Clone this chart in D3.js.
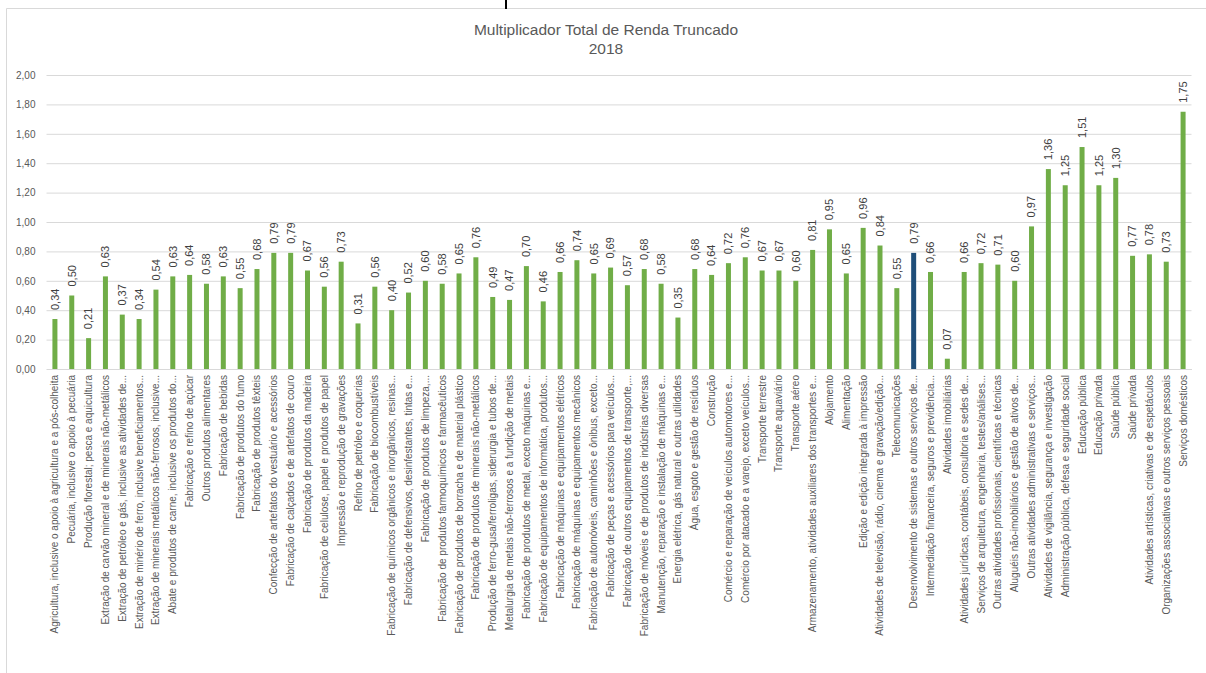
<!DOCTYPE html>
<html>
<head>
<meta charset="utf-8">
<script src="https://cdn.jsdelivr.net/npm/d3@7"></script>
<style>
  html, body { margin: 0; padding: 0; background: #ffffff; }
  svg { display: block; font-family: "Liberation Sans", Arial, sans-serif; }
</style>
</head>
<body>
<svg id="chart" width="1206" height="673"></svg>
<script>
const categories = [
  "Agricultura, inclusive o apoio à agricultura e a pós-colheita",
  "Pecuária, inclusive o apoio à pecuária",
  "Produção florestal; pesca e aquicultura",
  "Extração de carvão mineral e de minerais não-metálicos",
  "Extração de petróleo e gás, inclusive as atividades de...",
  "Extração de minério de ferro, inclusive beneficiamentos...",
  "Extração de minerais metálicos não-ferrosos, inclusive...",
  "Abate e produtos de carne, inclusive os produtos do...",
  "Fabricação e refino de açúcar",
  "Outros produtos alimentares",
  "Fabricação de bebidas",
  "Fabricação de produtos do fumo",
  "Fabricação de produtos têxteis",
  "Confecção de artefatos do vestuário e acessórios",
  "Fabricação de calçados e de artefatos de couro",
  "Fabricação de produtos da madeira",
  "Fabricação de celulose, papel e produtos de papel",
  "Impressão e reprodução de gravações",
  "Refino de petróleo e coquerias",
  "Fabricação de biocombustíveis",
  "Fabricação de químicos orgânicos e inorgânicos, resinas...",
  "Fabricação de defensivos, desinfestantes, tintas e...",
  "Fabricação de produtos de limpeza,...",
  "Fabricação de produtos farmoquímicos e farmacêuticos",
  "Fabricação de produtos de borracha e de material plástico",
  "Fabricação de produtos de minerais não-metálicos",
  "Produção de ferro-gusa/ferroligas, siderurgia e tubos de...",
  "Metalurgia de metais não-ferrosos e a fundição de metais",
  "Fabricação de produtos de metal, exceto máquinas e...",
  "Fabricação de equipamentos de informática, produtos...",
  "Fabricação de máquinas e equipamentos elétricos",
  "Fabricação de máquinas e equipamentos mecânicos",
  "Fabricação de automóveis, caminhões e ônibus, exceto...",
  "Fabricação de peças e acessórios para veículos...",
  "Fabricação de outros equipamentos de transporte,...",
  "Fabricação de móveis e de produtos de indústrias diversas",
  "Manutenção, reparação e instalação de máquinas e...",
  "Energia elétrica, gás natural e outras utilidades",
  "Água, esgoto e gestão de resíduos",
  "Construção",
  "Comércio e reparação de veículos automotores e...",
  "Comércio por atacado e a varejo, exceto veículos...",
  "Transporte terrestre",
  "Transporte aquaviário",
  "Transporte aéreo",
  "Armazenamento, atividades auxiliares dos transportes e...",
  "Alojamento",
  "Alimentação",
  "Edição e edição integrada à impressão",
  "Atividades de televisão, rádio, cinema e gravação/edição...",
  "Telecomunicações",
  "Desenvolvimento de sistemas e outros serviços de...",
  "Intermediação financeira, seguros e previdência...",
  "Atividades imobiliárias",
  "Atividades jurídicas, contábeis, consultoria e sedes de...",
  "Serviços de arquitetura, engenharia, testes/análises...",
  "Outras atividades profissionais, científicas e técnicas",
  "Aluguéis não-imobiliários e gestão de ativos de...",
  "Outras atividades administrativas e serviços...",
  "Atividades de vigilância, segurança e investigação",
  "Administração pública, defesa e seguridade social",
  "Educação pública",
  "Educação privada",
  "Saúde pública",
  "Saúde privada",
  "Atividades artísticas, criativas e de espetáculos",
  "Organizações associativas e outros serviços pessoais",
  "Serviços domésticos"
];

const values = [
  0.34, 0.50, 0.21, 0.63, 0.37, 0.34, 0.54, 0.63, 0.64, 0.58,
  0.63, 0.55, 0.68, 0.79, 0.79, 0.67, 0.56, 0.73, 0.31, 0.56,
  0.40, 0.52, 0.60, 0.58, 0.65, 0.76, 0.49, 0.47, 0.70, 0.46,
  0.66, 0.74, 0.65, 0.69, 0.57, 0.68, 0.58, 0.35, 0.68, 0.64,
  0.72, 0.76, 0.67, 0.67, 0.60, 0.81, 0.95, 0.65, 0.96, 0.84,
  0.55, 0.79, 0.66, 0.07, 0.66, 0.72, 0.71, 0.60, 0.97, 1.36,
  1.25, 1.51, 1.25, 1.30, 0.77, 0.78, 0.73, 1.75
];

const highlighted = ["Desenvolvimento de sistemas e outros serviços de..."];

const yTicks = [0, 0.2, 0.4, 0.6, 0.8, 1.0, 1.2, 1.4, 1.6, 1.8, 2.0];

const titleLines = ["Multiplicador Total de Renda Truncado", "2018"];

const data = categories.map((c, i) => ({ cat: c, value: values[i] }));

const svg = d3.select("#chart");
const fmt = v => d3.format(".2f")(v).replace(".", ",");

const plot = { left: 46.5, right: 1191.5, top: 75, bottom: 369 };

const x = d3.scaleBand()
  .domain(categories)
  .range([plot.left, plot.right])
  .padding(0);

const y = d3.scaleLinear()
  .domain([0, 2])
  .range([plot.bottom, plot.top]);

// chart frame
svg.append("path")
  .attr("d", "M6.5,673 L6.5,8.5 L1206,8.5")
  .attr("fill", "none")
  .attr("stroke", "#d9d9d9")
  .attr("stroke-width", 1);

// small dark mark at the top edge (crop artifact in the reference)
svg.append("rect")
  .attr("x", 505).attr("y", 0)
  .attr("width", 2).attr("height", 9)
  .attr("fill", "#000000");

// title
svg.append("g").selectAll("text")
  .data(titleLines)
  .join("text")
  .attr("x", 606)
  .attr("y", (d, i) => 35 + i * 19)
  .attr("text-anchor", "middle")
  .attr("font-size", "15.5px")
  .attr("fill", "#595959")
  .text(d => d);

// gridlines
const yAxis = d3.axisLeft(y)
  .tickValues(yTicks)
  .tickSize(-(plot.right - plot.left))
  .tickPadding(11)
  .tickFormat(fmt);

const gy = svg.append("g")
  .attr("transform", `translate(${plot.left},0)`)
  .call(yAxis);
gy.select(".domain").remove();
gy.selectAll(".tick line")
  .attr("stroke", "#d9d9d9")
  .attr("stroke-width", 1);
gy.selectAll(".tick text")
  .attr("fill", "#595959")
  .attr("font-size", "10px")
  .attr("font-family", "'Liberation Sans', Arial, sans-serif");

// x axis (category labels)
const xAxis = d3.axisBottom(x).tickSize(0).tickPadding(0);
const gx = svg.append("g")
  .attr("transform", `translate(0,${plot.bottom})`)
  .call(xAxis);
gx.select(".domain").attr("stroke", "#d9d9d9");
gx.selectAll(".tick text")
  .attr("transform", "rotate(-90)")
  .attr("text-anchor", "end")
  .attr("x", -6)
  .attr("y", 0)
  .attr("dy", "0.35em")
  .attr("fill", "#595959")
  .attr("font-size", "10px")
  .attr("font-family", "'Liberation Sans', Arial, sans-serif");

// bars
const barW = 5;
svg.append("g").selectAll("rect")
  .data(data)
  .join("rect")
  .attr("x", d => x(d.cat) + x.bandwidth() / 2 - barW / 2)
  .attr("width", barW)
  .attr("y", d => y(d.value))
  .attr("height", d => y(0) - y(d.value))
  .attr("fill", d => highlighted.includes(d.cat) ? "#1f4e79" : "#70ad47");

// data labels
svg.append("g").selectAll("text")
  .data(data)
  .join("text")
  .attr("transform", d => `translate(${x(d.cat) + x.bandwidth() / 2},${y(d.value) - 9}) rotate(-90)`)
  .attr("text-anchor", "start")
  .attr("dy", "0.35em")
  .attr("font-size", "11px")
  .attr("fill", "#404040")
  .text(d => fmt(d.value));
</script>
</body>
</html>
